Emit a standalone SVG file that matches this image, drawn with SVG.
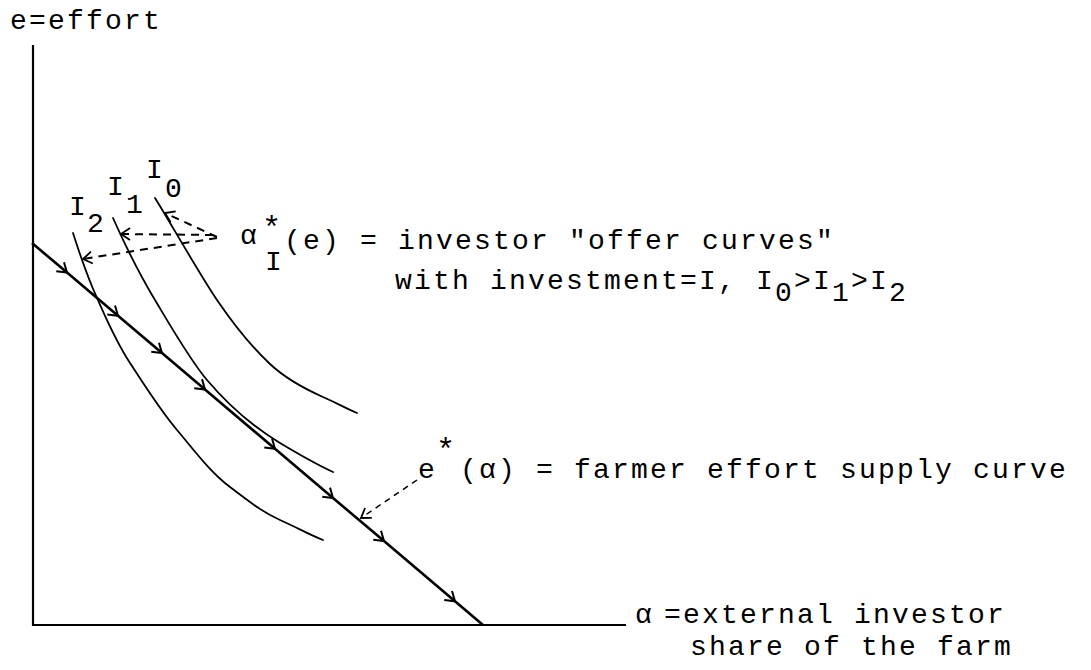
<svg xmlns="http://www.w3.org/2000/svg" width="1091" height="670" viewBox="0 0 1091 670">
<style>
.t{font-family:"Liberation Mono","DejaVu Sans Mono",monospace;font-size:28px;letter-spacing:2.2px;fill:#000}
.sup{font-size:32px}
.ax{stroke:#000;stroke-width:2.2;fill:none}
.curve{stroke:#000;stroke-width:1.8;fill:none;stroke-linecap:round}
.supply{stroke:#000;stroke-width:2.6;fill:none;marker-mid:url(#chev)}
.dash{stroke:#000;stroke-width:2;fill:none;stroke-dasharray:8 6;marker-end:url(#tip)}
.dash2{stroke:#000;stroke-width:1.5;fill:none;stroke-dasharray:6 5;marker-end:url(#tip)}
</style>
<defs>
<marker id="chev" markerUnits="userSpaceOnUse" markerWidth="24" markerHeight="24" viewBox="-12 -12 24 24" refX="0" refY="0" orient="auto" overflow="visible">
<path d="M-9,-6 L0,0 L-9,6" fill="none" stroke="#000" stroke-width="2"/>
</marker>
<marker id="tip" markerUnits="userSpaceOnUse" markerWidth="24" markerHeight="24" viewBox="-12 -12 24 24" refX="0" refY="0" orient="auto" overflow="visible">
<path d="M-9,-6 L0,0 L-9,6" fill="none" stroke="#000" stroke-width="1.8"/>
</marker>
</defs>
<rect width="1091" height="670" fill="#fff"/>

<g id="axes">
<line class="ax" x1="33" y1="45" x2="33" y2="626"/>
<line class="ax" x1="32" y1="625" x2="626" y2="625"/>
<text class="t" x="10" y="29">e=effort</text>
<text class="t" x="635" y="623">α<tspan x="664">=external investor</tspan></text>
<text class="t" x="690" y="655">share of the farm</text>
</g>

<g id="offer-I0">
<path class="curve" d="M155,198 C170,222 200,275 217,300 S255,350 270,364 S305,389 323,397 S345,408 357,413"/>
<text class="t" x="146" y="178">I<tspan x="165" y="197">0</tspan></text>
</g>
<g id="offer-I1">
<path class="curve" d="M113,218 C125,245 140,275 155,300 S190,360 207,380 S250,425 280,443 S320,466 333,472"/>
<text class="t" x="107" y="195">I<tspan x="126" y="213">1</tspan></text>
</g>
<g id="offer-I2">
<path class="curve" d="M73,233 C80,255 88,278 97,298 S115,340 130,363 S160,410 177,430 S210,472 230,487 S262,512 280,520 S310,535 323,540"/>
<text class="t" x="69" y="215">I<tspan x="87" y="232">2</tspan></text>
</g>

<g id="supply">
<path class="supply" d="M32,243 L67,272.6 L118,315.8 L162,353.1 L205,389.5 L275,448.8 L333,498 L384,541.1 L455,601.3 L483,625"/>
</g>

<g id="label-offer">
<text class="t" x="240" y="244">α<tspan class="sup" x="262" y="238">*</tspan><tspan x="265" y="270">I</tspan><tspan x="284" y="249">(e) = investor "offer curves"</tspan></text>
<text class="t" y="289"><tspan x="395">with investment=I, I</tspan><tspan x="775" y="301">0</tspan><tspan x="794" y="289">&gt;I</tspan><tspan x="832" y="301">1</tspan><tspan x="851" y="289">&gt;I</tspan><tspan x="889" y="301">2</tspan></text>
</g>

<g id="label-supply">
<text class="t" x="418" y="478">e<tspan class="sup" x="436" y="460">*</tspan><tspan x="460" y="478">(α) = farmer effort supply curve</tspan></text>
</g>

<g id="connectors">
<path class="dash" d="M217,237 L165,213"/>
<path class="dash" d="M213,235 L121,234"/>
<path class="dash" d="M217,238 L83,259"/>
<path class="dash2" d="M417,480 L361,518"/>
</g>
</svg>
